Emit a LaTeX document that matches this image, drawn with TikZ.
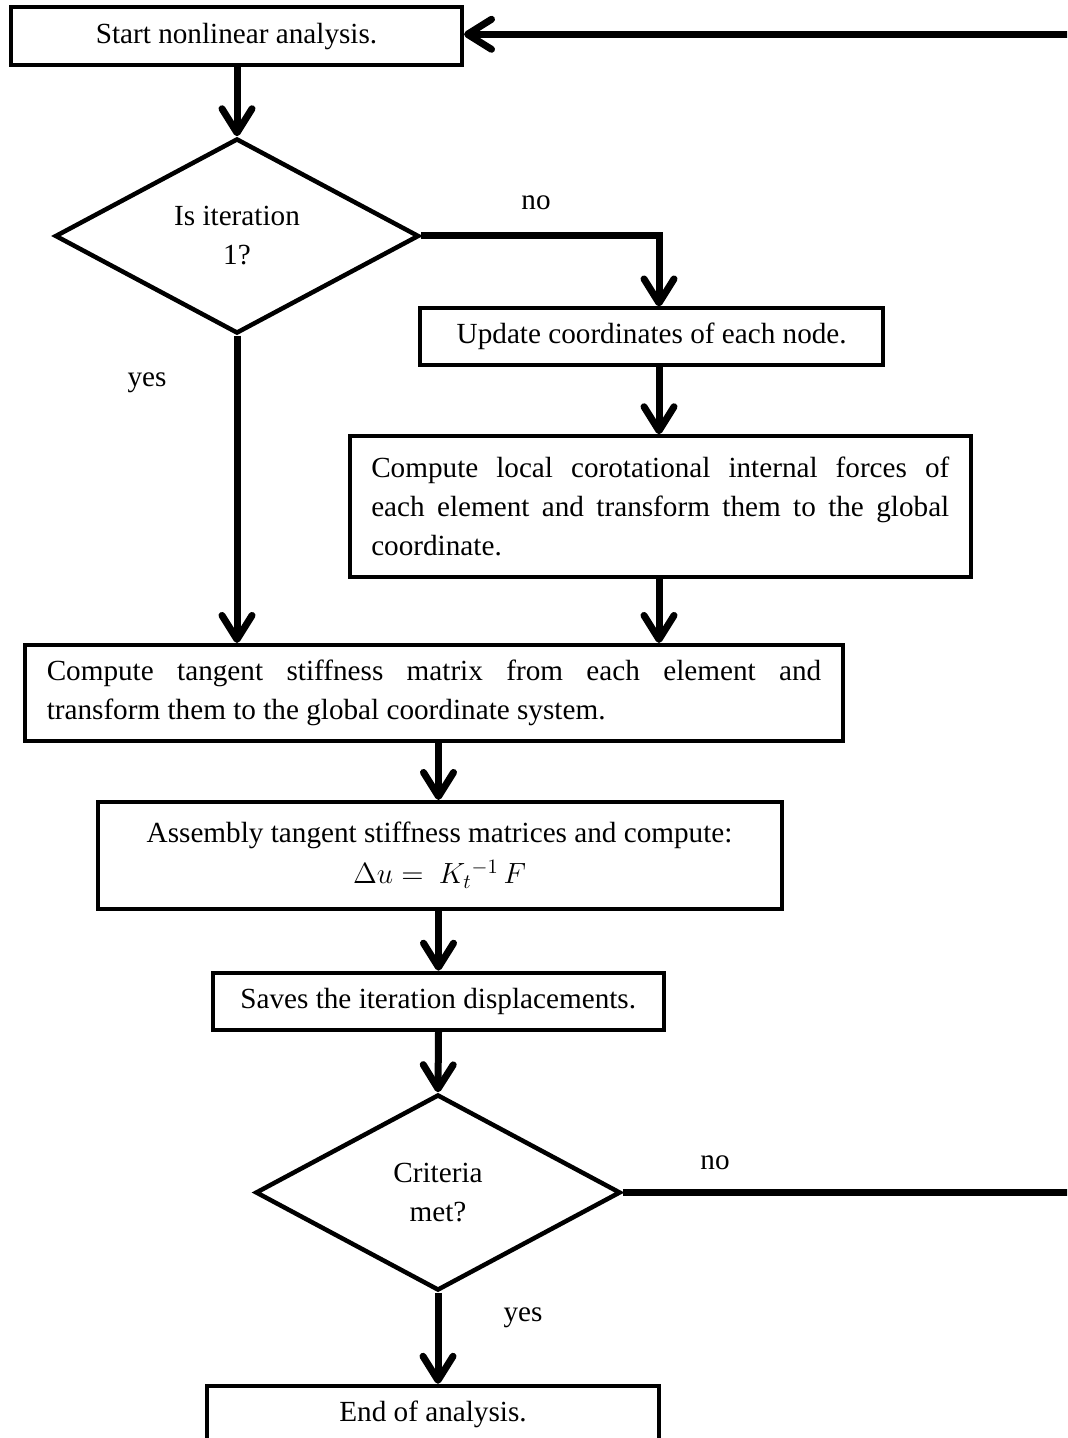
\documentclass[tikz,border=0pt]{standalone}
\usepackage{fix-cm}
\usepackage{fontspec}
\setmainfont{Liberation Serif}
\usetikzlibrary{shapes.geometric,arrows.meta}
\newcommand{\mainsize}{\fontsize{14.6}{19.5}\selectfont}
\tikzset{
  boxnode/.style={draw, rectangle, line width=2pt, inner sep=0pt, align=center, font=\mainsize},
  jbox/.style={draw, rectangle, line width=2pt, inner xsep=10.875pt, inner ysep=0pt, align=justify, font=\mainsize},
  decision/.style={draw, diamond, line width=2.25pt, inner sep=0pt, align=center, font=\mainsize,
                   minimum width=182pt, minimum height=97.5pt},
  flow/.style={line width=3.5pt, -{Straight Barb[length=12pt,width=15pt,line cap=round,line join=round]}},
  plainline/.style={line width=3.5pt},
  lbl/.style={font=\mainsize, inner sep=0pt}
}
\begin{document}
\begin{tikzpicture}[x=0.5pt,y=-0.5pt]
\useasboundingbox (0,0) rectangle (1067,1438);
\clip (0,0) rectangle (1067,1438);
% columns
\coordinate (colR) at (659,0);
\coordinate (colM) at (438.5,0);
\coordinate (rEdge) at (1090,0);
\coordinate (topY) at (0,34.3);
% nodes
\node[boxnode, minimum width=225.5pt, minimum height=28.75pt] (b1) at (236.5,36.2) {Start nonlinear analysis.};
\node[decision] (d1) at (237,236) {Is iteration\\1?};
\node[boxnode, minimum width=231.25pt, minimum height=28.25pt] (b2) at (651.7,336.7) {Update coordinates of each node.};
\node[jbox, text width=289pt, minimum height=70.35pt] (b3) at (660.25,506.6)
  {Compute local corotational internal forces of\linebreak each element and transform them to the global\linebreak coordinate.};
\node[jbox, text width=387.25pt, minimum height=47.85pt] (b4) at (434,692.8)
  {Compute tangent stiffness matrix from each element and\linebreak transform them to the global coordinate system.};
\node[boxnode, minimum width=342.1pt, minimum height=53.35pt] (b5) at (439.6,855.3)
  {Assembly tangent stiffness matrices and compute:\\[1pt] $\Delta u =\ K_t{}^{-1}\,F$};
\node[boxnode, minimum width=225.5pt, minimum height=28.5pt] (b6) at (438.2,1001.2) {Saves the iteration displacements.};
\node[decision, minimum width=182.5pt, minimum height=98pt] (d2) at (438,1192.5) {Criteria\\met?};
\node[boxnode, minimum width=226pt, minimum height=28.5pt] (b7) at (433,1414.3) {End of analysis.};
% labels
\node[lbl] (no1) at (536,203) {no};
\node[lbl] (yes1) at (147,383) {yes};
\node[lbl] (no2) at (715,1163) {no};
\node[lbl] (yes2) at (523,1318) {yes};
% connectors
\draw[flow] (b1.south -| d1.north) -- (d1.north);
\draw[flow] (d1.east) -| (colR |- b2.north);
\draw[flow] (colR |- b2.south) -- (colR |- b3.north);
\draw[flow] (colR |- b3.south) -- (colR |- b4.north);
\draw[flow] (d1.south) -- (d1.south |- b4.north);
\draw[flow] (colM |- b4.south) -- (colM |- b5.north);
\draw[flow] (colM |- b5.south) -- (colM |- b6.north);
\draw[flow] (colM |- b6.south) -- (d2.north);
\draw[flow] (d2.south) -- (d2.south |- b7.north);
\draw[plainline] (d2.east) -- (d2.east -| rEdge);
\draw[flow] (rEdge |- topY) -- (b1.east |- topY);
\end{tikzpicture}
\end{document}
